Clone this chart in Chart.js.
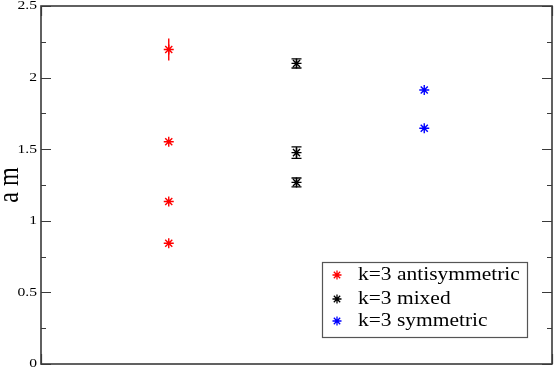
<!DOCTYPE html>
<html>
<head>
<meta charset="utf-8">
<script src="https://cdn.jsdelivr.net/npm/chart.js@4.4.0/dist/chart.umd.min.js"></script>
<style>
  html, body { margin: 0; padding: 0; background: #fff; }
  #wrap { width: 554px; height: 370px; }
</style>
</head>
<body>
<div id="wrap"><canvas id="chart" width="554" height="370"></canvas></div>
<script>
// values
const seriesNames = ['k=3 antisymmetric', 'k=3 mixed', 'k=3 symmetric'];
const seriesColors = ['#ff0000', '#000000', '#0000ff'];
const seriesX = [1, 2, 3];

const antisymValues = [2.196, 1.552, 1.135, 0.843];
const antisymErrors = [0.077, 0, 0, 0];
const mixedValues = [2.099, 1.476, 1.268];
const mixedErrors = [0.032, 0.04, 0.031];
const symValues = [1.913, 1.646];
const symErrors = [0, 0];

const yMajorTicks = [0, 0.5, 1, 1.5, 2, 2.5];
const yTickLabels = ['0', '0.5', '1', '1.5', '2', '2.5'];
const yMinorTicks = [0.25, 0.75, 1.25, 1.75, 2.25];
const xMajorTicks = [0, 4];
const yTitle = 'a m';

const FONT = '"Liberation Serif", "Times New Roman", serif';

function toPoints(x, vals) {
    return vals.map(v => ({ x: x, y: v }));
}

const allValues = [antisymValues, mixedValues, symValues];
const allErrors = [antisymErrors, mixedErrors, symErrors];
const errorCaps = [false, true, true];

const datasets = seriesNames.map((name, i) => ({
    label: name,
    data: toPoints(seriesX[i], allValues[i]),
    errors: allErrors[i],
    caps: errorCaps[i],
    borderColor: seriesColors[i],
    backgroundColor: seriesColors[i],
    pointStyle: 'star',
    pointRadius: 5,
    pointHoverRadius: 5,
    borderWidth: 1.4,
    showLine: false
}));

// text in the original is a bit wide, so squash/stretch it horizontally
function stretchedText(ctx, text, x, y, size, align, sx) {
    ctx.save();
    ctx.translate(x, y);
    ctx.scale(sx, 1);
    ctx.font = size + 'px ' + FONT;
    ctx.textAlign = align;
    ctx.textBaseline = 'middle';
    ctx.fillStyle = '#000';
    ctx.fillText(text, 0, 0);
    ctx.restore();
}

// error bars drawn under the stars
const errorBars = {
    id: 'errorBars',
    beforeDatasetsDraw(chart) {
        const ctx = chart.ctx;
        const ys = chart.scales.y;
        chart.data.datasets.forEach((ds, i) => {
            const meta = chart.getDatasetMeta(i);
            ctx.save();
            ctx.strokeStyle = ds.borderColor;
            ctx.lineWidth = 1.4;
            ds.data.forEach((p, j) => {
                const e = ds.errors[j];
                if (!e) return;
                const px = meta.data[j].x;
                const top = ys.getPixelForValue(p.y + e);
                const bot = ys.getPixelForValue(p.y - e);
                ctx.beginPath();
                ctx.moveTo(px, top);
                ctx.lineTo(px, bot);
                if (ds.caps) {
                    ctx.moveTo(px - 5, top);
                    ctx.lineTo(px + 5, top);
                    ctx.moveTo(px - 5, bot);
                    ctx.lineTo(px + 5, bot);
                }
                ctx.stroke();
            });
            ctx.restore();
        });
    }
};

// frame, inside ticks, labels, title and legend
const frame = {
    id: 'frame',
    afterDraw(chart) {
        const ctx = chart.ctx;
        const a = chart.chartArea;
        const ys = chart.scales.y;
        const xs = chart.scales.x;

        ctx.save();
        ctx.strokeStyle = '#3a3a3a';
        ctx.lineWidth = 1.6;
        ctx.strokeRect(a.left, a.top, a.right - a.left, a.bottom - a.top);

        ctx.lineWidth = 1.2;
        ctx.beginPath();
        yMajorTicks.forEach(v => {
            const py = Math.round(ys.getPixelForValue(v)) + 0.5;
            ctx.moveTo(a.left, py); ctx.lineTo(a.left + 10, py);
            ctx.moveTo(a.right, py); ctx.lineTo(a.right - 10, py);
        });
        yMinorTicks.forEach(v => {
            const py = Math.round(ys.getPixelForValue(v)) + 0.5;
            ctx.moveTo(a.left, py); ctx.lineTo(a.left + 5, py);
            ctx.moveTo(a.right, py); ctx.lineTo(a.right - 5, py);
        });
        xMajorTicks.forEach(v => {
            const px = Math.round(xs.getPixelForValue(v)) + 0.5;
            ctx.moveTo(px, a.bottom); ctx.lineTo(px, a.bottom - 10);
            ctx.moveTo(px, a.top); ctx.lineTo(px, a.top + 10);
        });
        ctx.stroke();
        ctx.restore();

        yMajorTicks.forEach((v, i) => {
            stretchedText(ctx, yTickLabels[i], a.left - 4, ys.getPixelForValue(v), 13, 'right', 1.2);
        });

        // rotated axis title
        ctx.save();
        ctx.translate(10, (a.top + a.bottom) / 2);
        ctx.scale(1.25, 1);
        ctx.rotate(-Math.PI / 2);
        ctx.font = '24px ' + FONT;
        ctx.textAlign = 'center';
        ctx.textBaseline = 'middle';
        ctx.fillStyle = '#000';
        ctx.fillText(yTitle, 0, 0);
        ctx.restore();

        // legend box
        ctx.save();
        ctx.fillStyle = '#fff';
        ctx.fillRect(322, 262, 205, 75);
        ctx.strokeStyle = '#555';
        ctx.lineWidth = 1.2;
        ctx.strokeRect(322.5, 262.5, 205, 75);
        ctx.restore();
        const rows = [275, 299, 321];
        chart.data.datasets.forEach((ds, i) => {
            ctx.save();
            ctx.strokeStyle = ds.borderColor;
            ctx.fillStyle = ds.borderColor;
            ctx.lineWidth = 1.3;
            Chart.helpers.drawPoint(ctx, { pointStyle: 'star', radius: 4.5, rotation: 0, borderWidth: 1.3 }, 337, rows[i]);
            ctx.restore();
            stretchedText(ctx, ds.label, 358, rows[i], 19, 'left', 1.13);
        });
    }
};

new Chart(document.getElementById('chart'), {
    type: 'scatter',
    data: { datasets: datasets },
    options: {
        responsive: false,
        animation: false,
        layout: { autoPadding: false, padding: { left: 41, top: 6, right: 2, bottom: 6 } },
        plugins: {
            legend: { display: false },
            tooltip: { enabled: false }
        },
        scales: {
            x: { type: 'linear', min: 0, max: 4, display: false },
            y: { type: 'linear', min: 0, max: 2.5, display: false }
        }
    },
    plugins: [errorBars, frame]
});
</script>
</body>
</html>
